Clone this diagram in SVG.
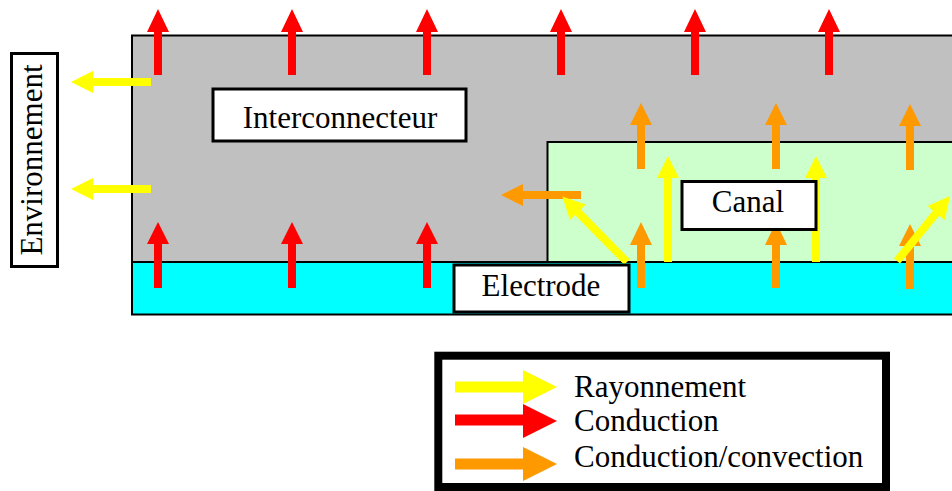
<svg xmlns="http://www.w3.org/2000/svg" width="952" height="491" viewBox="0 0 952 491">
<style>
.lbl{fill:#fff;stroke:#000;stroke-width:3}
.t{font-family:"Liberation Serif","Times New Roman",serif;font-size:31px;fill:#000}
.r{fill:#ff0000}
.o{fill:#ff9900}
.y{fill:#ffff00}
</style>
<rect width="952" height="491" fill="#fff"/>
<g id="regions">
<rect id="interconnecteur-zone" x="132" y="35.5" width="830" height="226.5" fill="#c0c0c0" stroke="#000" stroke-width="2"/>
<rect id="electrode-zone" x="132" y="262" width="830" height="52.5" fill="#00ffff" stroke="#000" stroke-width="2"/>
<rect id="canal-zone" x="547.5" y="142" width="420" height="120" fill="#ccffcc" stroke="#000" stroke-width="2"/>
</g>
<g id="connectors">
<!-- red conduction top -->
<polygon class="r" points="158,9 169,32 162,32 162,75 154,75 154,32 147,32"/>
<polygon class="r" points="292,9 303,32 296,32 296,75 288,75 288,32 281,32"/>
<polygon class="r" points="427,9 438,32 431,32 431,75 423,75 423,32 416,32"/>
<polygon class="r" points="561,9 572,32 565,32 565,75 557,75 557,32 550,32"/>
<polygon class="r" points="695,9 706,32 699,32 699,75 691,75 691,32 684,32"/>
<polygon class="r" points="829,9 840,32 833,32 833,75 825,75 825,32 818,32"/>
<!-- red conduction bottom -->
<polygon class="r" points="158,222 169,244 162,244 162,288 154,288 154,244 147,244"/>
<polygon class="r" points="292,222 303,244 296,244 296,288 288,288 288,244 281,244"/>
<polygon class="r" points="427,222 438,244 431,244 431,288 423,288 423,244 416,244"/>
<!-- yellow left -->
<polygon class="y" points="71,82 93,71 93,78 151,78 151,86 93,86 93,93"/>
<polygon class="y" points="71,189 93,178 93,185 151,185 151,193 93,193 93,200"/>
<!-- orange top -->
<polygon class="o" points="641,103 652,125 645,125 645,169 637,169 637,125 630,125"/>
<polygon class="o" points="776,103 787,125 780,125 780,169 772,169 772,125 765,125"/>
<polygon class="o" points="910,104 921,126 914,126 914,170 906,170 906,126 899,126"/>
<!-- orange bottom -->
<polygon class="o" points="641,222 652,245 645,245 645,288 637,288 637,245 630,245"/>
<polygon class="o" points="776,222 787,245 780,245 780,288 772,288 772,245 765,245"/>
<polygon class="o" points="910,224 921,246 914,246 914,289 906,289 906,246 899,246"/>
<!-- orange left -->
<polygon class="o" points="501,195 523,184 523,191 581,191 581,199 523,199 523,206"/>
<!-- yellow vertical -->
<polygon class="y" points="668,156 679,178 672,178 672,262 664,262 664,178 657,178"/>
<polygon class="y" points="816,156 827,178 820,178 820,262 812,262 812,178 805,178"/>
<!-- yellow diagonals -->
<polygon class="y" transform="translate(627,262) rotate(-134.6)" points="0,-4 70,-4 70,-11 92,0 70,11 70,4 0,4"/>
<polygon class="y" transform="translate(897,261) rotate(-50.8)" points="0,-4 62,-4 62,-11 84,0 62,11 62,4 0,4"/>
</g>
<g id="interconnecteur">
<rect class="lbl" x="213" y="89" width="253" height="52"/>
<text class="t" x="340" y="128" text-anchor="middle">Interconnecteur</text>
</g>
<g id="canal">
<rect class="lbl" x="682" y="181.5" width="134" height="48"/>
<text class="t" x="748" y="212" text-anchor="middle">Canal</text>
</g>
<g id="electrode">
<rect class="lbl" x="454" y="265" width="175" height="47"/>
<text class="t" x="541" y="296" text-anchor="middle">Electrode</text>
</g>
<g id="environnement">
<rect class="lbl" x="11.5" y="53.5" width="46" height="213"/>
<text class="t" transform="translate(42,160) rotate(-90)" text-anchor="middle">Environnement</text>
</g>
<g id="legend">
<rect x="438.3" y="355.7" width="447.7" height="131.3" fill="#fff" stroke="#000" stroke-width="8"/>
<polygon class="y" points="455,381.5 523,381.5 523,370 557,387 523,404 523,392.5 455,392.5"/>
<polygon class="r" points="455,414.5 523,414.5 523,404 557,421 523,438 523,425.5 455,425.5"/>
<polygon class="o" points="455,458.5 523,458.5 523,447 557,464 523,481 523,469.5 455,469.5"/>
<text class="t" x="574" y="397">Rayonnement</text>
<text class="t" x="574" y="431">Conduction</text>
<text class="t" x="574" y="467">Conduction/convection</text>
</g>
</svg>
